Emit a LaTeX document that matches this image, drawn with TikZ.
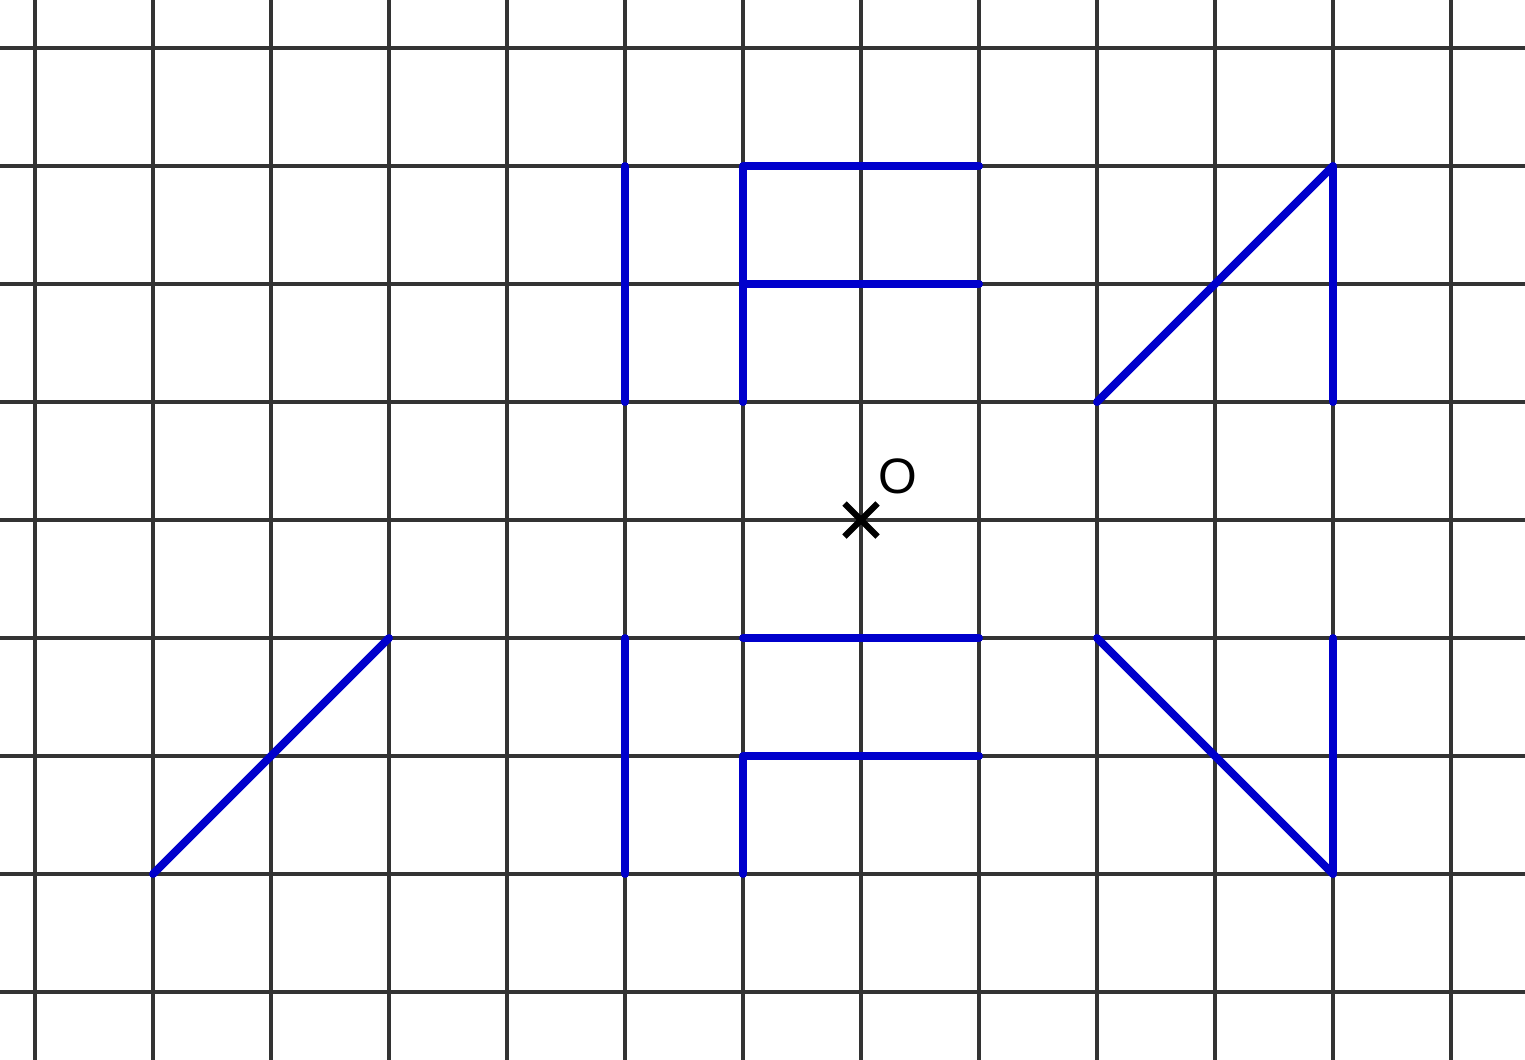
\documentclass[tikz,border=0pt]{standalone}
\usepackage{fontspec}
\setmainfont{Liberation Sans}
\usetikzlibrary{positioning}

\definecolor{figblue}{RGB}{0,0,204}
\definecolor{gridgray}{RGB}{51,51,51}

\begin{document}
\begin{tikzpicture}[
    gridline/.style={gridgray, line width=0.75pt},
    figure/.style={figblue, line width=1.9pt, line cap=round, line join=round},
    centre/.style={black, line width=1.5pt},
    label/.style={font=\fontsize{12}{14}\selectfont, inner sep=1pt}
]

% Bounding box
\useasboundingbox (-7.297, -4.576) rectangle (5.627, 4.407);

% Grid
\foreach \x in {-7,...,5} {
    \draw[gridline] (\x, -4.576) -- (\x, 4.407);
}
\foreach \y in {-4,...,4} {
    \draw[gridline] (-7.297, \y) -- (5.627, \y);
}

% Centre O
\coordinate (O) at (0, 0);
\draw[centre] (-0.14, -0.14) -- (0.14, 0.14);
\draw[centre] (-0.14, 0.14) -- (0.14, -0.14);
\node[label] (lblO) at (0.31, 0.37) {O};

% Left diagonal
\draw[figure] (-6, -3) -- (-4, -1);

% Vertical bars
\draw[figure] (-2, 1) -- (-2, 3);
\draw[figure] (-2, -3) -- (-2, -1);

% Upper F
\draw[figure] (-1, 1) -- (-1, 3) -- (1, 3);
\draw[figure] (-1, 2) -- (1, 2);

% Lower figure
\draw[figure] (-1, -1) -- (1, -1);
\draw[figure] (-1, -3) -- (-1, -2) -- (1, -2);

% Right triangles
\draw[figure] (2, 1) -- (4, 3) -- (4, 1);
\draw[figure] (2, -1) -- (4, -3) -- (4, -1);

\end{tikzpicture}
\end{document}
